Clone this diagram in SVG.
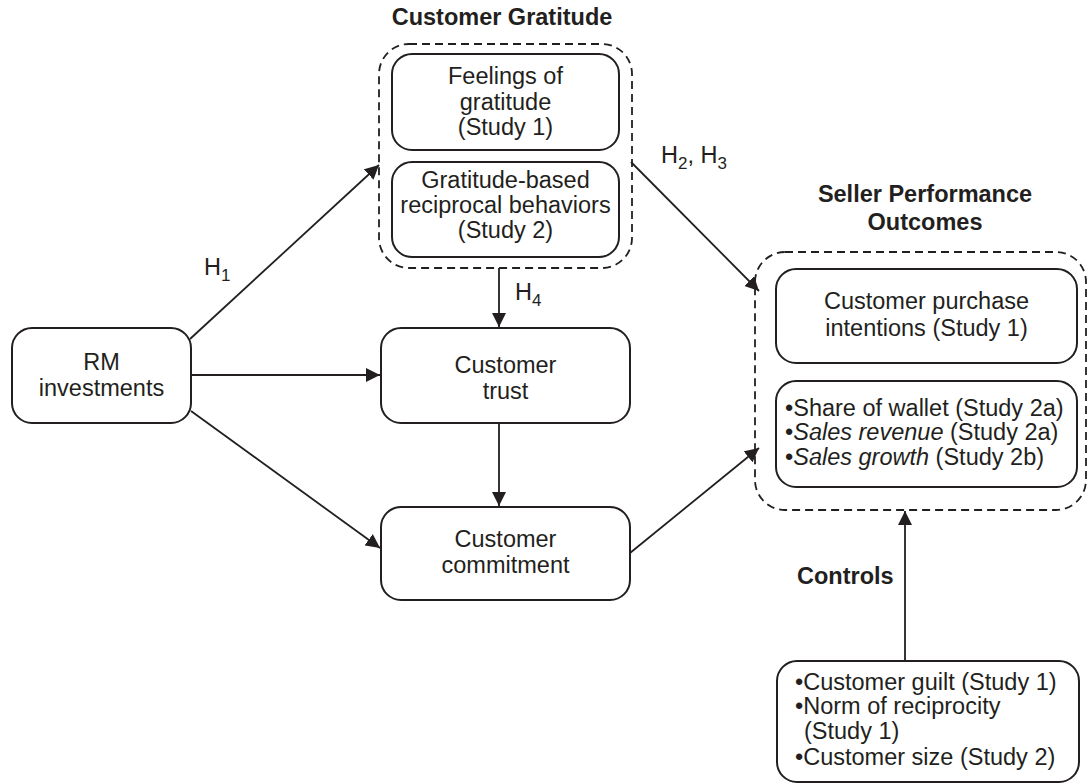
<svg xmlns="http://www.w3.org/2000/svg" width="1089" height="784" viewBox="0 0 1089 784">
<style>
text{font-family:"Liberation Sans",Arial,sans-serif;font-size:23.5px;fill:#231f20}
.c{text-anchor:middle}
.b{font-weight:bold}
.box{fill:#fff;stroke:#231f20;stroke-width:2}
.dash{fill:none;stroke:#231f20;stroke-width:1.8;stroke-dasharray:8 5}
.ln{fill:none;stroke:#231f20;stroke-width:1.8}
.sub{font-size:17px}
</style>
<defs>
<marker id="ah" markerUnits="userSpaceOnUse" markerWidth="15" markerHeight="14" refX="14" refY="7" orient="auto">
<path d="M0,0 L14,7 L0,14 z" fill="#231f20"/>
</marker>
</defs>
<rect width="1089" height="784" fill="#fff"/>

<g id="connectors">
<line class="ln" x1="190" y1="339" x2="379" y2="165" marker-end="url(#ah)"/>
<line class="ln" x1="191" y1="375" x2="380" y2="375" marker-end="url(#ah)"/>
<line class="ln" x1="191" y1="411" x2="380" y2="548" marker-end="url(#ah)"/>
<line class="ln" x1="499" y1="268" x2="499" y2="327" marker-end="url(#ah)"/>
<line class="ln" x1="499" y1="423" x2="499" y2="506" marker-end="url(#ah)"/>
<line class="ln" x1="631" y1="162" x2="759" y2="291" marker-end="url(#ah)"/>
<line class="ln" x1="630" y1="553" x2="759" y2="448" marker-end="url(#ah)"/>
<line class="ln" x1="905" y1="661" x2="905" y2="511" marker-end="url(#ah)"/>
<text x="204" y="275">H<tspan class="sub" dy="6">1</tspan></text>
<text x="515" y="300">H<tspan class="sub" dy="6">4</tspan></text>
<text x="661" y="163">H<tspan class="sub" dy="6">2</tspan><tspan dy="-6">, H</tspan><tspan class="sub" dy="6">3</tspan></text>
<text x="797" y="584" class="b">Controls</text>
</g>

<g id="customer-gratitude">
<text x="502" y="25" class="c b">Customer Gratitude</text>
<rect class="dash" x="379" y="44" width="253" height="224" rx="30"/>
</g>

<g id="feelings-of-gratitude">
<rect class="box" x="392" y="54" width="227" height="96" rx="20"/>
<text x="505.5" y="84" class="c">Feelings of</text>
<text x="505.5" y="110" class="c">gratitude</text>
<text x="505.5" y="135" class="c">(Study 1)</text>
</g>

<g id="gratitude-based-behaviors">
<rect class="box" x="392" y="162" width="227" height="95" rx="20"/>
<text x="505.5" y="188" class="c">Gratitude-based</text>
<text x="505.5" y="213" class="c">reciprocal behaviors</text>
<text x="505.5" y="238" class="c">(Study 2)</text>
</g>

<g id="rm-investments">
<rect class="box" x="12" y="328" width="179" height="95" rx="20"/>
<text x="101.5" y="370" class="c">RM</text>
<text x="101.5" y="396" class="c">investments</text>
</g>

<g id="customer-trust">
<rect class="box" x="381" y="328" width="249" height="95" rx="20"/>
<text x="505.5" y="373" class="c">Customer</text>
<text x="505.5" y="399" class="c">trust</text>
</g>

<g id="customer-commitment">
<rect class="box" x="381" y="507" width="249" height="93" rx="20"/>
<text x="505.5" y="547" class="c">Customer</text>
<text x="505.5" y="573" class="c">commitment</text>
</g>

<g id="seller-performance-outcomes">
<text x="925" y="202" class="c b">Seller Performance</text>
<text x="925" y="230" class="c b">Outcomes</text>
<rect class="dash" x="755" y="252" width="331" height="258" rx="30"/>
</g>

<g id="purchase-intentions">
<rect class="box" x="776" y="269" width="301" height="94" rx="20"/>
<text x="926.5" y="309" class="c">Customer purchase</text>
<text x="926.5" y="336" class="c">intentions (Study 1)</text>
</g>

<g id="sales-outcomes">
<rect class="box" x="776" y="381" width="301" height="106" rx="20"/>
<text x="785" y="416">•Share of wallet (Study 2a)</text>
<text x="785" y="440">•<tspan font-style="italic">Sales revenue</tspan> (Study 2a)</text>
<text x="785" y="465">•<tspan font-style="italic">Sales growth</tspan> (Study 2b)</text>
</g>

<g id="controls">
<rect class="box" x="777" y="661" width="302" height="121" rx="20"/>
<text x="795" y="690">•Customer guilt (Study 1)</text>
<text x="795" y="714">•Norm of reciprocity</text>
<text x="804" y="739">(Study 1)</text>
<text x="795" y="765">•Customer size (Study 2)</text>
</g>
</svg>
